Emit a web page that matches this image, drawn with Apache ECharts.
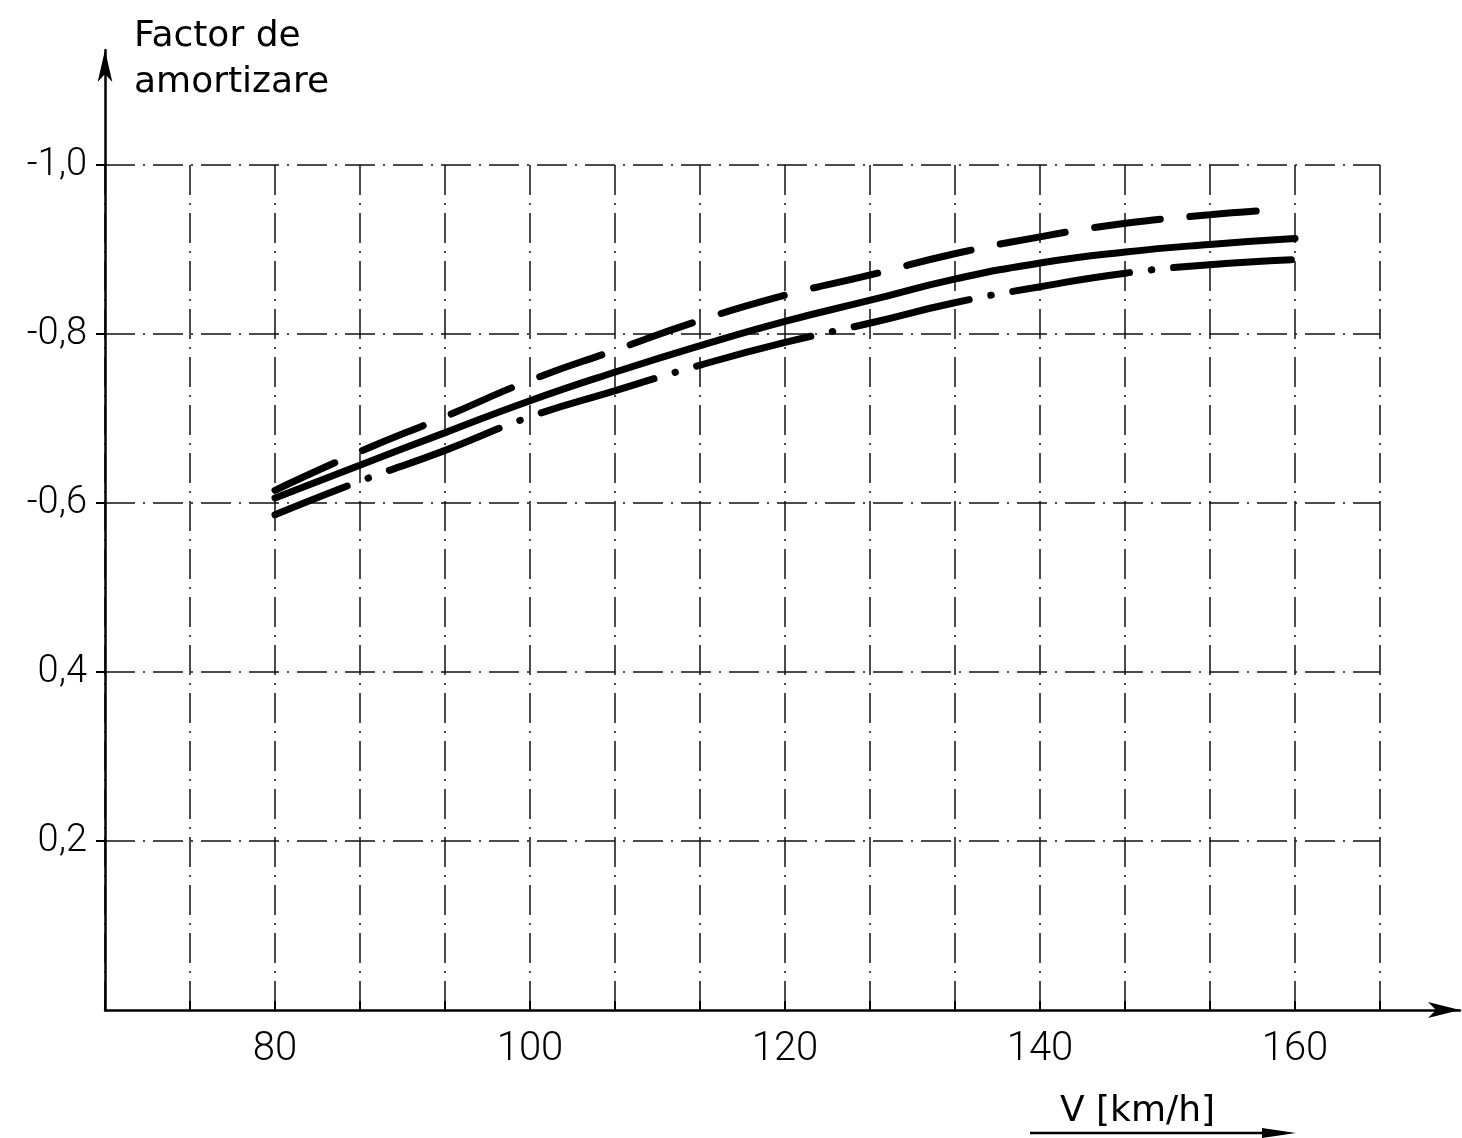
<!DOCTYPE html>
<html>
<head>
<meta charset="utf-8">
<style>
html,body{margin:0;padding:0;background:#fff;}
#chart{width:1462px;height:1138px;}
</style>
<script src="https://cdn.jsdelivr.net/npm/echarts@6/dist/echarts.min.js"></script>
</head>
<body>
<div id="chart"></div>
<script>
// ---- data ----
const xTickValues = [80, 100, 120, 140, 160];
const yLabelValues = [0.2, 0.4, 0.6, 0.8, 1.0];
const yLabelTexts = ['0,2', '0,4', '-0,6', '-0,8', '-1,0'];

const speedsDashed = [80, 86.7, 93.3, 100, 106.7, 113.3, 120, 126.7, 133.3, 140, 146.7, 153.3, 157.5];
const factorDashed = [0.615, 0.661, 0.702, 0.745, 0.781, 0.816, 0.846, 0.870, 0.895, 0.915, 0.931, 0.941, 0.946];

const speedsSolid = [80, 86.7, 93.3, 100, 106.7, 113.3, 120, 126.7, 133.3, 140, 146.7, 153.3, 160];
const factorSolid = [0.606, 0.645, 0.683, 0.721, 0.755, 0.786, 0.815, 0.840, 0.865, 0.884, 0.897, 0.906, 0.913];

const speedsDashDot = [80, 86.7, 93.3, 100, 106.7, 113.3, 120, 126.7, 133.3, 140, 146.7, 153.3, 160];
const factorDashDot = [0.586, 0.626, 0.662, 0.702, 0.733, 0.763, 0.790, 0.813, 0.837, 0.856, 0.872, 0.882, 0.888];

const yTitleLines = ['Factor de', 'amortizare'];
const xTitle = 'V [km/h]';

// ---- chart ----
const FONT = 'Roboto';
const TITLE_FONT = '"DejaVu Sans"';
const pairs = (xs, ys) => xs.map((x, i) => [x, ys[i]]);
const gridDash = [30, 8, 2, 8];

const chart = echarts.init(document.getElementById('chart'), null, {renderer: 'canvas'});
const option = {
  backgroundColor: '#fff',
  animation: false,
  grid: [
    {left: 105, right: 82, top: 165, bottom: 128},
    {left: 105, right: 2, top: 50, bottom: 128}
  ],
  xAxis: [
    {
      gridIndex: 0, type: 'value', min: 200 / 3, max: 500 / 3, interval: 20 / 3,
      axisLine: {show: false},
      axisTick: {show: true, inside: true, length: 9, lineStyle: {color: '#000', width: 2}},
      axisLabel: {
        show: true, customValues: xTickValues, margin: 20,
        color: '#000', fontFamily: FONT, fontSize: 40, fontWeight: 300,
        formatter: v => String(Math.round(v))
      },
      splitLine: {show: true, lineStyle: {color: '#111', width: 1.5, type: gridDash}}
    },
    {
      gridIndex: 1, type: 'value', min: 0, max: 1,
      axisLine: {show: true, symbol: ['none', 'arrow'], symbolSize: [12, 32],
        lineStyle: {color: '#000', width: 2.5}},
      axisTick: {show: false}, axisLabel: {show: false}, splitLine: {show: false}
    }
  ],
  yAxis: [
    {
      gridIndex: 0, type: 'value', min: 0, max: 1.0, interval: 0.1,
      axisLine: {show: false},
      axisTick: {show: true, customValues: yLabelValues, length: 9, lineStyle: {color: '#000', width: 2}},
      axisLabel: {
        show: true, customValues: yLabelValues, margin: 18,
        color: '#000', fontFamily: FONT, fontSize: 38, fontWeight: 300,
        formatter: v => {
          const i = yLabelValues.findIndex(t => Math.abs(t - v) < 1e-6);
          return i >= 0 ? yLabelTexts[i] : '';
        }
      },
      splitLine: {show: true, lineStyle: {color: '#111', width: 1.5, type: gridDash}}
    },
    {
      gridIndex: 1, type: 'value', min: 0, max: 1,
      axisLine: {show: true, symbol: ['none', 'arrow'], symbolSize: [11, 32],
        lineStyle: {color: '#000', width: 2.5}},
      axisTick: {show: false}, axisLabel: {show: false}, splitLine: {show: false}
    }
  ],
  series: [
    {
      type: 'line', xAxisIndex: 0, yAxisIndex: 0, smooth: true, symbol: 'none',
      data: pairs(speedsDashed, factorDashed),
      lineStyle: {color: '#000', width: 7, cap: 'round', type: [66, 30]}
    },
    {
      type: 'line', xAxisIndex: 0, yAxisIndex: 0, smooth: true, symbol: 'none',
      data: pairs(speedsSolid, factorSolid),
      lineStyle: {color: '#000', width: 7, cap: 'round', type: 'solid'}
    },
    {
      type: 'line', xAxisIndex: 0, yAxisIndex: 0, smooth: true, symbol: 'none',
      data: pairs(speedsDashDot, factorDashDot),
      lineStyle: {color: '#000', width: 7, cap: 'round', type: [118, 22, 0.5, 22], dashOffset: 40}
    }
  ],
  graphic: [
    {
      type: 'text', left: 134, top: 14,
      style: {text: yTitleLines.join('\n'), fill: '#000', font: '36px ' + TITLE_FONT, lineHeight: 46}
    },
    {
      type: 'text', left: 1060, top: 1094,
      style: {text: xTitle, fill: '#000', font: '36px ' + TITLE_FONT}
    },
    {
      type: 'line', shape: {x1: 1030, y1: 1133, x2: 1270, y2: 1133},
      style: {stroke: '#000', lineWidth: 2.5}
    },
    {
      type: 'polygon', shape: {points: [[1262, 1128], [1296, 1133], [1262, 1138]]},
      style: {fill: '#000'}
    }
  ]
};
chart.setOption(option);
</script>
</body>
</html>
